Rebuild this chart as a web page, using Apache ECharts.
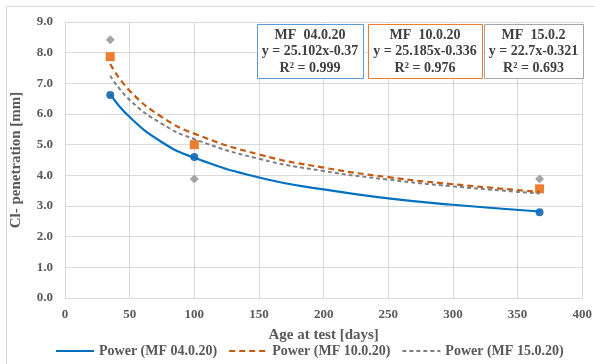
<!DOCTYPE html>
<html>
<head>
<meta charset="utf-8">
<script src="https://cdn.jsdelivr.net/npm/echarts@6/dist/echarts.min.js"></script>
<style>
  html, body { margin: 0; padding: 0; background: #fff; }
  #chart { width: 595px; height: 364px; }
</style>
</head>
<body>
<div id="chart"></div>
<script>
// measured points (age in days, penetration in mm)
const ages = [35, 100, 367];
const mf04 = [6.62, 4.6, 2.8];
const mf10 = [7.87, 5.0, 3.56];
const mf15 = [8.42, 3.88, 3.88];

// trend lines
const trendAges = [35, 50, 75, 100, 150, 200, 250, 300, 367];
const trend04 = [6.65, 5.9, 5.08, 4.57, 3.93, 3.54, 3.25, 3.04, 2.82];
const trend10 = [7.63, 6.76, 5.9, 5.36, 4.68, 4.25, 3.94, 3.71, 3.46];
const trend15 = [7.25, 6.46, 5.68, 5.18, 4.54, 4.14, 3.86, 3.64, 3.41];

const legendNames = ['Power (MF 04.0.20)', 'Power (MF 10.0.20)', 'Power (MF 15.0.20)'];
const boxes = [
  { lines: ['MF  04.0.20', 'y = 25.102x-0.37', 'R² = 0.999'], color: '#5B9BD5', x: 257, w: 106 },
  { lines: ['MF  10.0.20', 'y = 25.185x-0.336', 'R² = 0.976'], color: '#ED7D31', x: 368, w: 114 },
  { lines: ['MF  15.0.2', 'y = 22.7x-0.321', 'R² = 0.693'], color: '#A5A5A5', x: 484, w: 99 }
];

const serif = '"Liberation Serif", "Times New Roman", serif';
const txt = '#595959';

const pair = (xs, ys) => xs.map((x, i) => [x, ys[i]]);

const graphic = [{
  type: 'rect', silent: true, z: -1,
  shape: { x: 6.5, y: 6.5, width: 640, height: 400 },
  style: { fill: 'none', stroke: '#D9D9D9', lineWidth: 1 }
}];
boxes.forEach(b => {
  graphic.push({
    type: 'rect', z: 10,
    shape: { x: b.x + 0.5, y: 24.5, width: b.w, height: 54 },
    style: { fill: '#fff', stroke: b.color, lineWidth: 1 }
  });
  graphic.push({
    type: 'text', z: 11,
    x: b.x + b.w / 2, y: 27,
    style: {
      text: b.lines.join('\n'), align: 'center', verticalAlign: 'top',
      font: 'bold 14px ' + serif, fill: '#404040', lineHeight: 16.5
    }
  });
});

const chart = echarts.init(document.getElementById('chart'));
chart.setOption({
  animation: false,
  grid: { left: 65, right: 12, top: 22, bottom: 66 },
  xAxis: {
    type: 'value', min: 0, max: 400, interval: 50,
    name: 'Age at test [days]', nameLocation: 'middle', nameGap: 30,
    nameTextStyle: { fontFamily: serif, fontWeight: 'bold', fontSize: 15, color: txt },
    axisLine: { lineStyle: { color: '#D9D9D9' } },
    axisTick: { show: false },
    axisLabel: { fontFamily: serif, fontWeight: 'bold', fontSize: 13, color: txt, margin: 10 },
    splitLine: { lineStyle: { color: '#D9D9D9' } }
  },
  yAxis: {
    type: 'value', min: 0, max: 9, interval: 1,
    name: 'Cl- penetration [mm]', nameLocation: 'middle', nameGap: 41,
    nameTextStyle: { fontFamily: serif, fontWeight: 'bold', fontSize: 15, color: txt },
    axisLine: { show: true, lineStyle: { color: '#D9D9D9' } },
    axisTick: { show: false },
    axisLabel: { fontFamily: serif, fontWeight: 'bold', fontSize: 13, color: txt, margin: 12,
      formatter: v => v.toFixed(1) },
    splitLine: { lineStyle: { color: '#D9D9D9' } }
  },
  legend: {
    data: legendNames, bottom: 1, left: 50, itemWidth: 38, itemHeight: 10, itemGap: 11,
    itemStyle: { opacity: 0 },
    textStyle: { fontFamily: serif, fontWeight: 'bold', fontSize: 14, color: txt }
  },
  graphic: graphic,
  series: [
    { name: legendNames[0], type: 'line', smooth: true, symbol: 'none',
      data: pair(trendAges, trend04), lineStyle: { color: '#0070C0', width: 2.2 }, itemStyle: { color: '#0070C0' } },
    { name: legendNames[1], type: 'line', smooth: true, symbol: 'none',
      data: pair(trendAges, trend10), lineStyle: { color: '#C55A11', width: 2.2, type: [6, 4] }, itemStyle: { color: '#C55A11' } },
    { name: legendNames[2], type: 'line', smooth: true, symbol: 'none',
      data: pair(trendAges, trend15), lineStyle: { color: '#7F7F7F', width: 2, type: [4, 3] }, itemStyle: { color: '#7F7F7F' } },
    { name: 'MF 04.0.20', type: 'scatter', symbol: 'circle', symbolSize: 8,
      data: pair(ages, mf04), itemStyle: { color: '#2E75B6', opacity: 1 } },
    { name: 'MF 10.0.20', type: 'scatter', symbol: 'rect', symbolSize: 9,
      data: pair(ages, mf10), itemStyle: { color: '#ED7D31', opacity: 1 } },
    { name: 'MF 15.0.20', type: 'scatter', symbol: 'diamond', symbolSize: 9,
      data: pair(ages, mf15), itemStyle: { color: '#A5A5A5', opacity: 1 } }
  ]
});
</script>
</body>
</html>
